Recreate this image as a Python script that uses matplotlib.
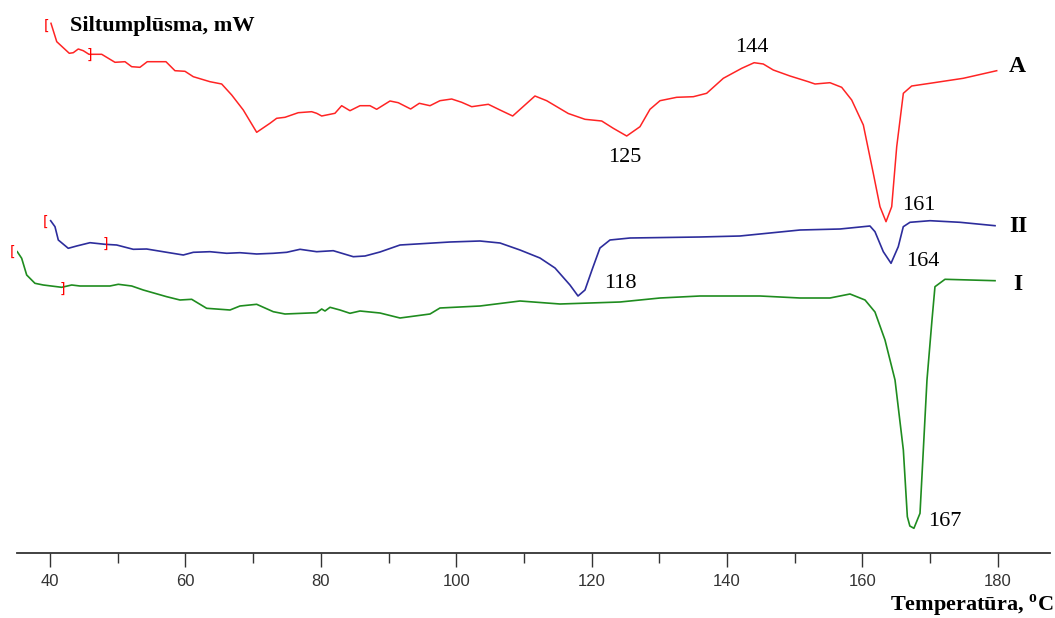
import matplotlib
matplotlib.use('Agg')
import matplotlib.pyplot as plt
from matplotlib.ticker import MultipleLocator

plt.rcParams['mathtext.fontset'] = 'custom'
plt.rcParams['mathtext.rm'] = 'Liberation Serif'
plt.rcParams['mathtext.bf'] = 'Liberation Serif:bold'

# DSC līknes: temperatūra (°C) un siltumplūsma (nosacītas vienības, līknes nobīdītas)
temp_A = [40.15, 41.0, 42.85, 43.44, 44.18, 44.92, 45.76, 47.64, 49.6, 51.08, 52.07, 53.29,
          54.37, 57.13, 58.46, 59.94, 61.17, 63.63, 65.36, 66.84, 68.55, 70.53, 72.49, 73.48,
          74.71, 76.67, 78.65, 79.39, 80.13, 82.09, 83.08, 84.31, 85.79, 87.26, 88.25, 90.22,
          91.44, 93.27, 94.55, 96.13, 97.6, 99.33, 100.81, 102.29, 104.74, 106.47, 108.34,
          111.63, 113.36, 116.55, 119.02, 121.49, 123.2, 125.18, 127.14, 128.62, 130.1, 132.56,
          135.02, 136.99, 139.45, 142.17, 144.0, 145.35, 146.83, 149.3, 152.0, 152.99, 155.2,
          156.93, 158.41, 160.13, 161.6, 162.59, 163.48, 164.32, 165.06, 166.04, 167.27,
          169.98, 174.89, 179.83]
hf_A = [-2.33, -4.17, -5.33, -5.27, -4.9, -5.07, -5.43, -5.43, -6.23, -6.17, -6.67, -6.73,
        -6.17, -6.17, -7.07, -7.13, -7.67, -8.17, -8.4, -9.5, -11.0, -13.23, -12.33, -11.83,
        -11.73, -11.27, -11.17, -11.33, -11.6, -11.33, -10.57, -11.07, -10.57, -10.57, -10.93,
        -10.1, -10.27, -10.9, -10.33, -10.57, -10.07, -9.9, -10.23, -10.67, -10.43, -11.0,
        -11.6, -9.6, -10.07, -11.35, -11.93, -12.1, -12.83, -13.6, -12.67, -10.93, -10.07,
        -9.73, -9.67, -9.33, -7.83, -6.83, -6.27, -6.4, -7.0, -7.6, -8.17, -8.4, -8.27,
        -8.73, -10.0, -12.5, -17.33, -20.67, -22.17, -20.67, -14.67, -9.33, -8.6, -8.33,
        -7.83, -7.07]

temp_II = [40.1, 40.74, 41.23, 42.7, 43.94, 45.91, 48.12, 49.85, 52.3, 54.28, 57.24, 59.69,
           61.17, 63.63, 66.1, 68.06, 70.53, 72.98, 74.96, 76.93, 79.39, 81.84, 84.8, 86.53,
           88.74, 91.7, 99.08, 103.51, 106.47, 109.42, 112.37, 114.59, 116.8, 117.99, 119.02,
           120.05, 121.23, 122.71, 125.67, 136.0, 141.9, 150.78, 156.69, 161.11, 161.85,
           163.08, 164.22, 165.29, 166.03, 167.02, 169.98, 174.41, 179.58]
hf_II = [-22.07, -22.67, -24.0, -24.83, -24.6, -24.27, -24.43, -24.5, -24.93, -24.9, -25.23,
         -25.5, -25.23, -25.17, -25.33, -25.27, -25.4, -25.33, -25.23, -24.93, -25.17, -25.07,
         -25.67, -25.6, -25.2, -24.5, -24.2, -24.1, -24.3, -25.0, -25.8, -26.8, -28.5, -29.6,
         -29.0, -27.0, -24.8, -24.0, -23.8, -23.7, -23.6, -23.0, -22.9, -22.6, -23.17,
         -25.17, -26.33, -24.67, -22.67, -22.23, -22.07, -22.23, -22.57]

temp_I = [35.17, 35.82, 36.56, 37.78, 39.01, 41.73, 43.21, 44.43, 48.86, 50.09, 52.07, 53.78,
          57.24, 59.2, 60.93, 63.14, 66.59, 68.06, 70.53, 72.98, 74.71, 79.39, 80.13, 80.62,
          81.36, 82.83, 84.31, 85.79, 88.74, 91.7, 96.13, 97.6, 103.51, 109.42, 115.33,
          124.19, 130.1, 136.0, 144.87, 150.78, 155.2, 158.16, 160.38, 161.85, 163.33,
          164.81, 166.04, 166.63, 167.0, 167.6, 168.5, 168.99, 169.53, 170.27, 170.71,
          172.19, 175.88, 179.58]
hf_I = [-25.17, -25.83, -27.5, -28.33, -28.5, -28.73, -28.5, -28.6, -28.6, -28.43, -28.6,
        -29.0, -29.67, -30.0, -29.93, -30.83, -31.0, -30.6, -30.43, -31.17, -31.4, -31.27,
        -30.9, -31.1, -30.73, -31.0, -31.33, -31.1, -31.3, -31.8, -31.4, -30.8, -30.6, -30.1,
        -30.4, -30.2, -29.8, -29.6, -29.6, -29.8, -29.8, -29.4, -30.0, -31.2, -34.0, -38.0,
        -45.0, -51.67, -52.6, -52.83, -51.33, -45.0, -38.0, -32.0, -28.67, -27.93, -28.0,
        -28.07]

# integrēšanas robežas [ ]
brackets = [(39.5, -2.6, '['), (45.76, -5.45, ']'),
            (39.4, -22.2, '['), (48.12, -24.4, ']'),
            (34.5, -25.2, '['), (41.9, -28.9, ']')]

# pīķu temperatūras un to uzrakstu vietas
peak_labels = [('144', 143.6, -4.7), ('125', 124.9, -15.7), ('161', 168.35, -20.5),
               ('164', 168.9, -26.1), ('118', 124.2, -28.3), ('167', 172.2, -52.2)]
curve_names = [('A', 182.8, -6.7), ('II', 183.0, -22.6), ('I', 183.0, -28.4)]

fig = plt.figure(figsize=(10.55, 6.18), dpi=100)
ax = fig.add_axes([17 / 1055, 65.3 / 618, 1033 / 1055, 552.7 / 618])

ax.plot(temp_A, hf_A, color='#ff2424', lw=1.1)
ax.plot(temp_II, hf_II, color='#2d2d9c', lw=1.2)
ax.plot(temp_I, hf_I, color='#1f8c1f', lw=1.2)

for t, h, s in brackets:
    ax.text(t, h, s, color='red', fontsize=10, ha='center', va='center',
            family='DejaVu Sans')

for s, t, h in peak_labels:
    ax.text(t, h, s, fontsize=16, ha='center', va='center', family='Liberation Serif')

for s, t, h in curve_names:
    ax.text(t, h, s, fontsize=17, ha='center', va='center', fontweight='bold',
            family='Liberation Serif')

ax.set_xlim(35.13, 187.7)
ax.set_ylim(-55.27, 0)
ax.xaxis.set_major_locator(MultipleLocator(20))
ax.xaxis.set_minor_locator(MultipleLocator(10))
ax.tick_params(axis='x', which='major', length=10, width=1, color='#333333',
               labelsize=12, labelcolor='#333333', pad=5)
ax.tick_params(axis='x', which='minor', length=7, width=1, color='#333333')
for lab in ax.get_xticklabels():
    lab.set_family('Liberation Sans')
ax.set_yticks([])
for side in ['top', 'left', 'right']:
    ax.spines[side].set_visible(False)
ax.spines['bottom'].set_color('#333333')
ax.spines['bottom'].set_linewidth(1.3)
ax.patch.set_alpha(0)

fig.text(70 / 1055, 1 - 26 / 618, 'Siltumplūsma, mW', fontsize=16, fontweight='bold',
         family='Liberation Serif', ha='left', va='center')
fig.text(1053 / 1055, 1 - 606 / 618, r'Temperatūra, $^{\mathbf{o}}$C', fontsize=16,
         fontweight='bold', family='Liberation Serif', ha='right', va='center')

fig.savefig('out.png', dpi=100)
